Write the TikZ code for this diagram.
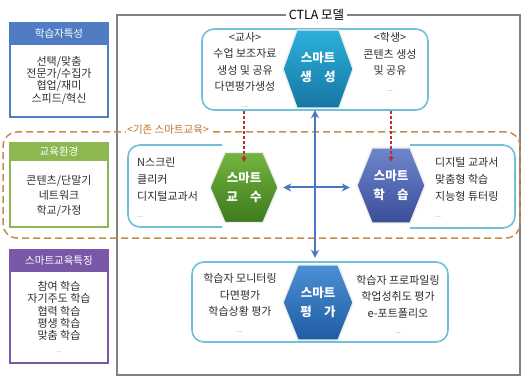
\documentclass[tikz,border=0pt]{standalone}
\usepackage{fontspec}
\setmainfont{Noto Sans CJK KR}
\usetikzlibrary{arrows.meta,calc}
\definecolor{cblue}{HTML}{4F7CC2}
\definecolor{cgreen}{HTML}{8DB851}
\definecolor{cpurple}{HTML}{7A58A8}
\definecolor{corange}{HTML}{C98A4B}
\definecolor{clabel}{HTML}{C0722E}
\definecolor{cframe}{HTML}{808080}
\definecolor{cbox}{HTML}{6FC0D8}
\definecolor{ctxt}{HTML}{2E2E2E}
\definecolor{carrow}{HTML}{4A78C0}
\definecolor{cred}{HTML}{B8312F}
\definecolor{hgentop}{HTML}{2DB0DC}
\definecolor{hgenbot}{HTML}{1676A3}
\definecolor{hteatop}{HTML}{74B53F}
\definecolor{hteabot}{HTML}{3D7A1C}
\definecolor{hlrntop}{HTML}{6E86CC}
\definecolor{hlrnbot}{HTML}{3A4D9A}
\definecolor{hevatop}{HTML}{4C8FD4}
\definecolor{hevabot}{HTML}{1E5CA3}
\newcommand{\drawhexa}[7]{%
  \shade[top color=#6, bottom color=#7, draw=white!85!gray, line width=1.3pt]
    (#1-#3,#2) -- (#1-#3+#5,#2-#4) -- (#1+#3-#5,#2-#4) -- (#1+#3,#2)
    -- (#1+#3-#5,#2+#4) -- (#1-#3+#5,#2+#4) -- cycle;}
\tikzset{
  colframe/.style={draw=#1, line width=1.6pt, fill=white, minimum width=98pt, inner sep=0pt},
  colhead/.style={fill=#1, text=white, minimum width=98pt, inner sep=0pt, anchor=north,
    font=\fontsize{10.5}{12}\selectfont},
  coltext/.style={text=ctxt, align=center, inner sep=0pt},
  rbox/.style={draw=cbox, line width=1.6pt, rounded corners=12pt, fill=white},
  btext/.style={text=ctxt, inner sep=0pt, font=\fontsize{11}{16.5}\selectfont},
  hexlabel/.style={text=white, align=center, inner sep=0pt, font=\fontsize{12.5}{19}\selectfont\bfseries},
  bluearrow/.style={draw=carrow, line width=2pt, {Stealth[length=8pt,width=8pt]}-{Stealth[length=8pt,width=8pt]}},
  redarrow/.style={draw=cred, line width=1.3pt, dash pattern=on 3pt off 2pt, -{Triangle[length=5pt,width=5pt]}},
}
\newcommand{\ellips}{{\color{gray}\fontsize{7}{16.5}\selectfont ...}}
\begin{document}
\begin{tikzpicture}[x=1pt,y=-1pt]
\useasboundingbox (0,0) rectangle (524,379);
% CTLA frame
\node[draw=cframe, line width=1.2pt, minimum width=403pt, minimum height=360pt, inner sep=0pt] (ctla) at (318.5,195) {};
\node[fill=white, font=\fontsize{12.5}{14}\selectfont, inner sep=3pt] (title) at (316.5,15) {CTLA 모델};
% old smart education zone
\node[draw=corange, line width=1.5pt, dash pattern=on 7pt off 4pt, rounded corners=14pt,
  minimum width=517pt, minimum height=106pt, inner sep=0pt] (oldzone) at (261.5,185) {};
\node[fill=white, text=clabel, font=\fontsize{10.5}{12}\selectfont, inner sep=1pt, anchor=west] (oldlbl) at (126,130) {<기존 스마트교육>};
% left column
\node[colframe=cblue, minimum height=94pt] (p1) at (59,70) {};
\node[colhead=cblue, minimum height=23pt] (p1h) at (p1.north) {학습자특성};
\node[coltext, font=\fontsize{11}{12.3}\selectfont] (p1t) at (59,80) {선택/맞춤\\전문가/수집가\\협업/재미\\스피드/혁신};
\node[colframe=cgreen, minimum height=84pt] (p2) at (59,185) {};
\node[colhead=cgreen, minimum height=19pt] (p2h) at (p2.north) {교육환경};
\node[coltext, font=\fontsize{11}{15}\selectfont] (p2t) at (59,195.5) {콘텐츠/단말기\\네트워크\\학교/가정};
\node[colframe=cpurple, minimum height=113pt] (p3) at (59,306.5) {};
\node[colhead=cpurple, minimum height=23pt] (p3h) at (p3.north) {스마트교육특징};
\node[coltext, font=\fontsize{11}{12.3}\selectfont] (p3t) at (59,311) {참여 학습\\자기주도 학습\\협력 학습\\평생 학습\\맞춤 학습};
\node[coltext, text=gray, font=\fontsize{6}{8}\selectfont] (p3d) at (59,352) {...};
% top: smart generation
\node[rbox, minimum width=226pt, minimum height=81pt] (genbox) at (315,69.5) {};
\drawhexa{318}{69}{35}{39}{14}{hgentop}{hgenbot}
\node[hexlabel, minimum width=70pt, minimum height=78pt] (gen) at (318,67) {스마트\\생\hspace{1em}성};
\node[btext, align=center] (gentl) at (245,69.5) {<교사>\\수업 보조자료\\생성 및 공유\\다면평가생성\\\ellips};
\node[btext, align=center] (gentr) at (390,62) {<학생>\\콘텐츠 생성\\및 공유\\\ellips};
% middle left: smart teaching
\draw[rbox] (222,145) -- (128,145) -- (128,227) -- (222,227);
\drawhexa{244}{187.5}{34}{35}{15}{hteatop}{hteabot}
\node[hexlabel, minimum width=68pt, minimum height=70pt] (teach) at (244,187.5) {스마트\\교\hspace{1em}수};
\node[btext, align=left, anchor=west, font=\fontsize{11}{17}\selectfont] (teacht) at (137,187.5) {N스크린\\클리커\\디지털교과서\\\ellips};
% middle right: smart learning
\draw[rbox] (410,145) -- (515,145) -- (515,228) -- (410,228);
\drawhexa{391}{185.5}{34}{37.5}{15}{hlrntop}{hlrnbot}
\node[hexlabel, minimum width=68pt, minimum height=75pt] (learn) at (391,185.5) {스마트\\학\hspace{1em}습};
\node[btext, align=left, anchor=west, font=\fontsize{11}{17}\selectfont] (learnt) at (435,187.5) {디지털 교과서\\맞춤형 학습\\지능형 튜터링\\\ellips};
% bottom: smart evaluation
\node[rbox, minimum width=256pt, minimum height=80pt] (evabox) at (320,302) {};
\drawhexa{318}{302.5}{35}{37.5}{15}{hevatop}{hevabot}
\node[hexlabel, minimum width=70pt, minimum height=75pt] (eva) at (318,302.5) {스마트\\평\hspace{1em}가};
\node[btext, align=center] (evatl) at (240,303) {학습자 모니터링\\다면평가\\학습상황 평가\\\ellips};
\node[btext, align=center] (evatr) at (398,304.5) {학습자 프로파일링\\학업성취도 평가\\e-포트폴리오\\\ellips};
% arrows
\draw[redarrow] (genbox.south -| teach.north) -- ([yshift=-10pt]teach.north);
\draw[redarrow] (genbox.south -| learn.north) -- ([yshift=-14pt]learn.north);
\draw[bluearrow, shorten <=4pt, shorten >=7pt] ([xshift=-3pt]gen.south) -- ([xshift=-3pt]eva.north);
\draw[bluearrow, shorten <=5pt, shorten >=7pt] (teach.east) -- (teach.east -| learn.west);
\end{tikzpicture}
\end{document}
